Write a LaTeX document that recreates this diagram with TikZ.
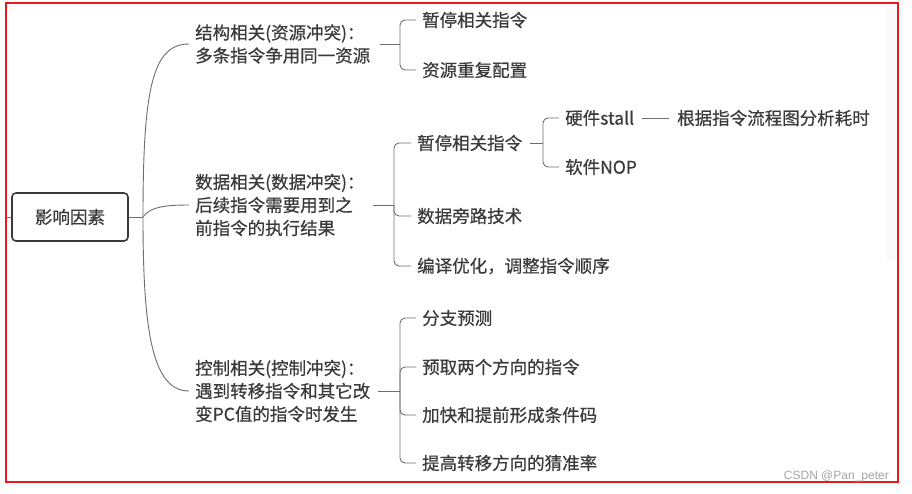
\documentclass[tikz,border=0pt]{standalone}
\usepackage{fontspec}
\usepackage{tikz}
\setmainfont[FakeBold=0.5]{Noto Sans CJK SC}
\definecolor{txtgray}{HTML}{3A3A3A}
\definecolor{linegray}{HTML}{6E6E6E}
\definecolor{framered}{HTML}{E8191E}
\tikzset{
  leaf/.style={anchor=west, inner xsep=6pt, inner ysep=0pt, text=txtgray,
    font=\fontsize{17.5}{23}\selectfont},
  branch/.style={leaf, align=left},
  link/.style={draw=linegray, line width=0.9pt},
  fork/.style={link, rounded corners=5pt}
}
\begin{document}
\begin{tikzpicture}[x=1pt,y=-1pt]
\useasboundingbox (0,0) rectangle (912,493);
% background and frame
\fill[white] (0,0) rectangle (912,493);
\fill[black!2] (886,5) rectangle (897,260);
\draw[framered, line width=1.6pt] (6,3) rectangle (898,482);

    % Root
    \node[draw=txtgray, line width=1.6pt, rounded corners=4pt, minimum width=116pt,
      minimum height=48pt, text=txtgray, font=\fontsize{17.5}{23}\selectfont] (root) at (70,217) {影响因素};
    \coordinate (rootin) at (6,217);
    \coordinate (trunk) at (143,217);
    \draw[link] (rootin) -- (root.west);
    \draw[link] (root.east) -- (trunk);

    % Three kinds of hazards
    \node[branch] (struct) at (189,44) {结构相关(资源冲突)：\\多条指令争用同一资源};
    \node[branch] (data) at (189,205) {数据相关(数据冲突)：\\后续指令需要用到之\\前指令的执行结果};
    \node[branch] (ctrl) at (189,391) {控制相关(控制冲突)：\\遇到转移指令和其它改\\变PC值的指令时发生};

    \draw[link] (trunk) .. controls (143,90) and (152,44) .. (struct.west);
    \draw[link] (trunk) .. controls (150,207) and (165,205) .. (data.west);
    \draw[link] (trunk) .. controls (143,330) and (152,391) .. (ctrl.west);

    % Structural hazard
    \node[leaf] (s1) at (416,20) {暂停相关指令};
    \node[leaf] (s2) at (416,70) {资源重复配置};
    \coordinate (sj) at (400,44);
    \draw[link] ([xshift=4pt]struct.east) -- (sj);
    \foreach \c in {s1,s2} \draw[fork] (sj) |- (\c.west);

    % Data hazard
    \node[leaf] (d1) at (411,143) {暂停相关指令};
    \node[leaf] (d2) at (411,216) {数据旁路技术};
    \node[leaf] (d3) at (411,266) {编译优化，调整指令顺序};
    \coordinate (dj) at (394,205);
    \draw[link] ([xshift=2pt]data.east) -- (dj);
    \foreach \c in {d1,d2,d3} \draw[fork] (dj) |- (\c.west);

    \node[leaf] (hw) at (559,118) {硬件stall};
    \node[leaf] (sw) at (559,167) {软件NOP};
    \coordinate (hj) at (543,143);
    \draw[link] ([xshift=2pt]d1.east) -- (hj);
    \foreach \c in {hw,sw} \draw[fork] (hj) |- (\c.west);

    \node[leaf] (hwnote) at (671,118) {根据指令流程图分析耗时};
    \draw[link] ([xshift=2pt]hw.east) -- ([xshift=-2pt]hwnote.west);

    % Control hazard
    \node[leaf] (c1) at (416,318) {分支预测};
    \node[leaf] (c2) at (416,367) {预取两个方向的指令};
    \node[leaf] (c3) at (416,415) {加快和提前形成条件码};
    \node[leaf] (c4) at (416,463) {提高转移方向的猜准率};
    \coordinate (cj) at (400,391);
    \draw[link] ([xshift=2pt]ctrl.east) -- (cj);
    \foreach \c in {c1,c2,c3,c4} \draw[fork] (cj) |- (\c.west);

    % Watermark
    \node[anchor=east, inner sep=0pt, text=black!35, font=\fontsize{12}{12}\selectfont\fontspec{Liberation Sans}] (mark) at (889,476) {CSDN @Pan\_peter};
\end{tikzpicture}
\end{document}
